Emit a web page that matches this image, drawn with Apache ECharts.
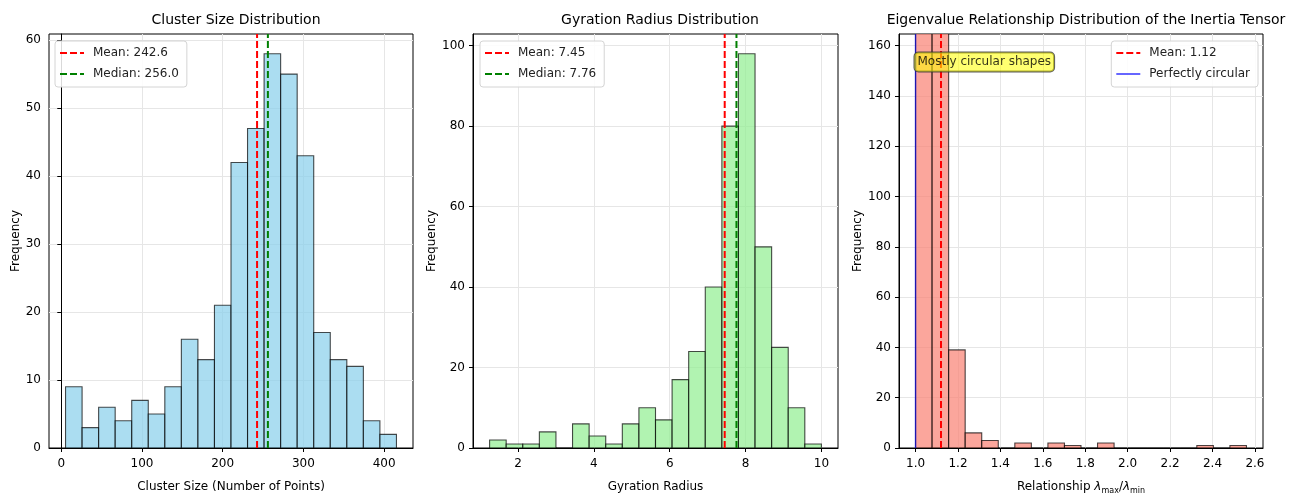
<!DOCTYPE html>
<html>
<head>
<meta charset="utf-8">
<title>Cluster shape statistics</title>
<script src="https://cdn.jsdelivr.net/npm/echarts@6/dist/echarts.min.js"></script>
<style>
  html, body { margin: 0; padding: 0; background: #fff; }
  #chart { width: 1304px; height: 497px; }
</style>
</head>
<body>
<div id="chart"></div>
<script>
// histogram counts, 20 bins each, bins spread evenly over the range
const sizeCounts = [9, 3, 6, 4, 7, 5, 9, 16, 13, 21, 42, 47, 58, 55, 43, 17, 13, 12, 4, 2];
const sizeRange = [5.3, 415.3];
const sizeMean = 242.6;
const sizeMedian = 256.0;

const radiusCounts = [2, 1, 1, 4, 0, 6, 3, 1, 6, 10, 7, 17, 24, 40, 80, 98, 50, 25, 10, 1];
const radiusRange = [1.25, 10.0];
const radiusMean = 7.45;
const radiusMedian = 7.76;

// first two bins go past the top of the axis (clipped in the original)
const ratioCounts = [170, 166, 39, 6, 3, 0, 2, 0, 2, 1, 0, 2, 0, 0, 0, 0, 0, 1, 0, 1];
const ratioRange = [1.0, 2.56];
const ratioMean = 1.12;
const ratioCircular = 1.0;

// tick labels
const sizeXTicks = [0, 100, 200, 300, 400];
const sizeYTicks = [0, 10, 20, 30, 40, 50, 60];
const radiusXTicks = [2, 4, 6, 8, 10];
const radiusYTicks = [0, 20, 40, 60, 80, 100];
const ratioXTicks = [1.0, 1.2, 1.4, 1.6, 1.8, 2.0, 2.2, 2.4, 2.6];
const ratioYTicks = [0, 20, 40, 60, 80, 100, 120, 140, 160];

// axis limits (matplotlib style 5% margins)
const sizeXLim = [-15.2, 435.8], sizeYMax = 60.9;
const radiusXLim = [0.8125, 10.4375], radiusYMax = 102.9;
const ratioXLim = [0.922, 2.638], ratioYMax = 164.6;

const annotationText = 'Mostly circular shapes';
const annotationAt = [0.995, 153.5];

const FONT = 'DejaVu Sans';

// legend icons: short line samples
const DASHED_ICON = 'path://M0,0H7V2H0Z M10,0H17V2H10Z M20,0H24V2H20Z';
const SOLID_ICON = 'path://M0,0H24V2H0Z';

function binRows(counts, range) {
  const w = (range[1] - range[0]) / counts.length;
  return counts.map((c, i) => [range[0] + i * w, range[0] + (i + 1) * w, c]);
}

function histSeries(idx, counts, range, fill) {
  return {
    type: 'custom',
    xAxisIndex: idx,
    yAxisIndex: idx,
    clip: true,
    silent: true,
    encode: { x: [0, 1], y: 2 },
    data: binRows(counts, range),
    renderItem: function (params, api) {
      const p0 = api.coord([api.value(0), 0]);
      const p1 = api.coord([api.value(1), api.value(2)]);
      return {
        type: 'rect',
        shape: { x: p0[0], y: p1[1], width: p1[0] - p0[0], height: p0[1] - p1[1] },
        style: { fill: fill, stroke: 'rgba(0,0,0,0.7)', lineWidth: 1.1 }
      };
    }
  };
}

function vline(idx, name, x, ymax, color, type, width) {
  return {
    type: 'line',
    name: name,
    xAxisIndex: idx,
    yAxisIndex: idx,
    symbol: 'none',
    silent: true,
    z: 5,
    lineStyle: { color: color, type: type, width: width },
    itemStyle: { color: color },
    data: [[x, 0], [x, ymax]]
  };
}

function xAxis(idx, lim, ticks, name, fmt) {
  return {
    type: 'value',
    gridIndex: idx,
    min: lim[0],
    max: lim[1],
    name: name,
    nameLocation: 'middle',
    nameGap: 33,
    nameTextStyle: { fontFamily: FONT, fontSize: 12, color: '#000' },
    axisLine: { show: true, onZero: false, lineStyle: { color: '#000', width: 1 } },
    axisTick: { show: true, length: 4, customValues: ticks, lineStyle: { color: '#000' } },
    axisLabel: {
      customValues: ticks, margin: 10, fontFamily: FONT, fontSize: 12, color: '#000',
      formatter: fmt || (v => String(v))
    },
    splitLine: { show: true, lineStyle: { color: '#e6e6e6', width: 1 } }
  };
}

function yAxis(idx, ymax, ticks) {
  return {
    type: 'value',
    gridIndex: idx,
    min: 0,
    max: ymax,
    name: 'Frequency',
    nameLocation: 'middle',
    nameGap: 27,
    nameTextStyle: { fontFamily: FONT, fontSize: 12, color: '#000' },
    axisLine: { show: true, lineStyle: { color: '#000', width: 1 } },
    axisTick: { show: true, length: 4, customValues: ticks, lineStyle: { color: '#000' } },
    axisLabel: { customValues: ticks, margin: 8, fontFamily: FONT, fontSize: 12, color: '#000' },
    splitLine: { show: true, lineStyle: { color: '#e6e6e6', width: 1 } }
  };
}

const legendBase = {
  orient: 'vertical',
  top: 41,
  padding: [5, 8, 6, 5],
  itemWidth: 24,
  itemHeight: 2,
  itemGap: 7,
  backgroundColor: 'rgba(255,255,255,0.85)',
  borderColor: '#d4d4d4',
  borderWidth: 1,
  borderRadius: 3,
  selectedMode: false,
  textStyle: { fontFamily: FONT, fontSize: 12, color: '#222', padding: [0, 0, 0, 4], lineHeight: 14 }
};

const sizeMeanName = 'Mean: ' + sizeMean.toFixed(1);
const sizeMedianName = 'Median: ' + sizeMedian.toFixed(1);
const radiusMeanName = 'Mean: ' + radiusMean.toFixed(2);
const radiusMedianName = 'Median: ' + radiusMedian.toFixed(2);
const ratioMeanName = 'Mean: ' + ratioMean.toFixed(2);
const ratioCircName = 'Perfectly circular';

const titleStyle = { fontFamily: FONT, fontSize: 14, fontWeight: 'normal', color: '#000' };

// fixed plot boxes; 'none' stops v6 from shrinking them to fit the labels
const gridBase = { top: 34, height: 414, show: true, borderColor: '#000', borderWidth: 1, outerBoundsMode: 'none', containLabel: false };

const option = {
  animation: false,
  backgroundColor: '#fff',
  title: [
    { text: 'Cluster Size Distribution', left: 231, top: 8, textAlign: 'center', textStyle: titleStyle },
    { text: 'Gyration Radius Distribution', left: 655, top: 8, textAlign: 'center', textStyle: titleStyle },
    { text: 'Eigenvalue Relationship Distribution of the Inertia Tensor', left: 1081, top: 8, textAlign: 'center', textStyle: titleStyle }
  ],
  grid: [
    Object.assign({}, gridBase, { left: 49, width: 364 }),
    Object.assign({}, gridBase, { left: 473, width: 365 }),
    Object.assign({}, gridBase, { left: 899, width: 364 })
  ],
  legend: [
    Object.assign({}, legendBase, {
      left: 55,
      data: [{ name: sizeMeanName, icon: DASHED_ICON }, { name: sizeMedianName, icon: DASHED_ICON }]
    }),
    Object.assign({}, legendBase, {
      left: 480,
      data: [{ name: radiusMeanName, icon: DASHED_ICON }, { name: radiusMedianName, icon: DASHED_ICON }]
    }),
    Object.assign({}, legendBase, {
      right: 46,
      data: [{ name: ratioMeanName, icon: DASHED_ICON }, { name: ratioCircName, icon: SOLID_ICON }]
    })
  ],
  xAxis: [
    xAxis(0, sizeXLim, sizeXTicks, 'Cluster Size (Number of Points)'),
    xAxis(1, radiusXLim, radiusXTicks, 'Gyration Radius'),
    Object.assign(xAxis(2, ratioXLim, ratioXTicks, 'Relationship {it|λ}{sub|max}/{it|λ}{sub|min}', v => v.toFixed(1)), {
      nameGap: 31,
      nameTextStyle: {
        fontFamily: FONT, fontSize: 12, color: '#000', lineHeight: 16,
        rich: {
          it: { fontFamily: FONT, fontSize: 12, fontStyle: 'italic', color: '#000', lineHeight: 16 },
          sub: { fontFamily: FONT, fontSize: 8, color: '#000', lineHeight: 8, verticalAlign: 'bottom' }
        }
      }
    })
  ],
  yAxis: [
    yAxis(0, sizeYMax, sizeYTicks),
    yAxis(1, radiusYMax, radiusYTicks),
    yAxis(2, ratioYMax, ratioYTicks)
  ],
  series: [
    histSeries(0, sizeCounts, sizeRange, 'rgba(135,206,235,0.7)'),
    vline(0, sizeMeanName, sizeMean, sizeYMax, '#ff0000', [7, 3], 2),
    vline(0, sizeMedianName, sizeMedian, sizeYMax, '#008000', [7, 3], 2),

    histSeries(1, radiusCounts, radiusRange, 'rgba(144,238,144,0.7)'),
    vline(1, radiusMeanName, radiusMean, radiusYMax, '#ff0000', [7, 3], 2),
    vline(1, radiusMedianName, radiusMedian, radiusYMax, '#008000', [7, 3], 2),

    histSeries(2, ratioCounts, ratioRange, 'rgba(250,128,114,0.7)'),
    vline(2, ratioMeanName, ratioMean, ratioYMax, '#ff0000', [7, 3], 2),
    vline(2, ratioCircName, ratioCircular, ratioYMax, 'rgba(0,0,255,0.6)', 'solid', 1.5),
    {
      // text box annotation
      type: 'scatter',
      xAxisIndex: 2,
      yAxisIndex: 2,
      symbolSize: 0,
      silent: true,
      z: 10,
      data: [annotationAt],
      label: {
        show: true,
        position: 'right',
        distance: 0,
        formatter: annotationText,
        fontFamily: FONT,
        fontSize: 12,
        color: '#000',
        backgroundColor: 'rgba(255,255,0,0.7)',
        borderColor: '#333',
        borderWidth: 1,
        borderRadius: 4,
        padding: [4, 3, 3, 3]
      }
    }
  ]
};

const chart = echarts.init(document.getElementById('chart'), null, { renderer: 'canvas' });
chart.setOption(option);
</script>
</body>
</html>
